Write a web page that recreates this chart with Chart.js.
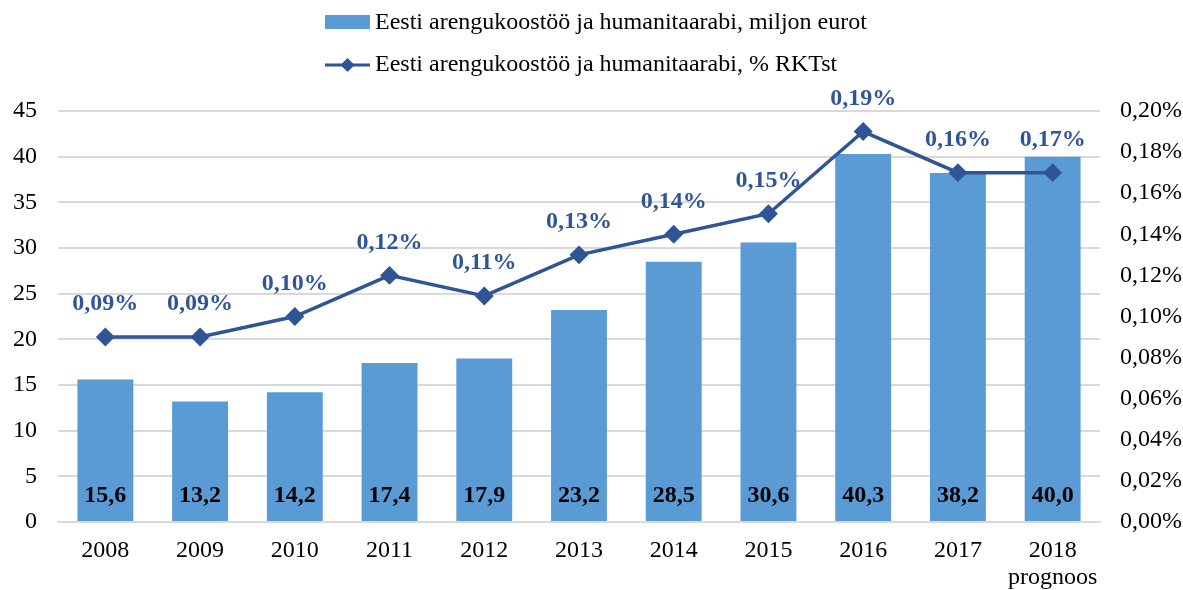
<!DOCTYPE html>
<html>
<head>
<meta charset="utf-8">
<script src="https://cdn.jsdelivr.net/npm/chart.js@4"></script>
<style>
  html, body { margin: 0; padding: 0; background: #fff; }
  #wrap { width: 1183px; height: 590px; }
</style>
</head>
<body>
<div id="wrap"><canvas id="chart" width="1183" height="590"></canvas></div>
<script>
// data
const years = ['2008', '2009', '2010', '2011', '2012', '2013', '2014', '2015', '2016', '2017', ['2018', 'prognoos']];
const millionEur = [15.6, 13.2, 14.2, 17.4, 17.9, 23.2, 28.5, 30.6, 40.3, 38.2, 40.0];
const pctGni = [0.09, 0.09, 0.10, 0.12, 0.11, 0.13, 0.14, 0.15, 0.19, 0.17, 0.17];
const pctLabels = ['0,09%', '0,09%', '0,10%', '0,12%', '0,11%', '0,13%', '0,14%', '0,15%', '0,19%', '0,16%', '0,17%'];
const barName = 'Eesti arengukoostöö ja humanitaarabi, miljon eurot';
const lineName = 'Eesti arengukoostöö ja humanitaarabi, % RKTst';

const FONT = '"Liberation Serif", "Times New Roman", serif';
const BAR_COLOR = '#5B9BD5';
const LINE_COLOR = '#2F5597';

// legend drawn by hand (two stacked rows)
const legendPlugin = {
  id: 'customLegend',
  afterDraw(chart) {
    const ctx = chart.ctx;
    ctx.save();
    ctx.font = '24px ' + FONT;
    ctx.textBaseline = 'middle';
    const x0 = 325;
    // bar entry
    ctx.fillStyle = BAR_COLOR;
    ctx.fillRect(x0, 15, 45, 14);
    ctx.fillStyle = '#000';
    ctx.fillText(barName, x0 + 50, 23);
    // line entry
    ctx.strokeStyle = LINE_COLOR;
    ctx.lineWidth = 3;
    ctx.beginPath();
    ctx.moveTo(x0, 65);
    ctx.lineTo(x0 + 45, 65);
    ctx.stroke();
    ctx.fillStyle = LINE_COLOR;
    ctx.beginPath();
    ctx.moveTo(x0 + 22.5, 58);
    ctx.lineTo(x0 + 29.5, 65);
    ctx.lineTo(x0 + 22.5, 72);
    ctx.lineTo(x0 + 15.5, 65);
    ctx.closePath();
    ctx.fill();
    ctx.fillStyle = '#000';
    ctx.fillText(lineName, x0 + 50, 65);
    ctx.restore();
  }
};

// value labels: inside bars near the base, above the line points
const labelPlugin = {
  id: 'valueLabels',
  afterDatasetsDraw(chart) {
    const ctx = chart.ctx;
    ctx.save();
    ctx.font = 'bold 24px ' + FONT;
    ctx.textAlign = 'center';
    ctx.textBaseline = 'middle';
    const yScale = chart.scales.y;
    chart.getDatasetMeta(1).data.forEach((bar, i) => {
      ctx.fillStyle = '#000';
      ctx.fillText(millionEur[i].toFixed(1).replace('.', ','), bar.x, yScale.getPixelForValue(0) - 26);
    });
    chart.getDatasetMeta(0).data.forEach((pt, i) => {
      ctx.fillStyle = LINE_COLOR;
      ctx.fillText(pctLabels[i], pt.x, pt.y - 33);
    });
    ctx.restore();
  }
};

new Chart(document.getElementById('chart'), {
  data: {
    labels: years,
    datasets: [
      {
        type: 'line',
        label: lineName,
        data: pctGni,
        yAxisID: 'y2',
        borderColor: LINE_COLOR,
        backgroundColor: LINE_COLOR,
        borderWidth: 3.5,
        pointStyle: 'rectRot',
        pointRadius: 7,
        pointHoverRadius: 7,
        tension: 0,
        order: 0
      },
      {
        type: 'bar',
        label: barName,
        data: millionEur,
        yAxisID: 'y',
        backgroundColor: BAR_COLOR,
        categoryPercentage: 1,
        barPercentage: 0.59,
        order: 1
      }
    ]
  },
  options: {
    responsive: false,
    animation: false,
    layout: { padding: { top: 111, left: 0, right: 0, bottom: 0 } },
    plugins: {
      legend: { display: false },
      tooltip: { enabled: false }
    },
    scales: {
      x: {
        afterFit: s => { s.height = 68; },
        grid: { display: false },
        border: { color: '#d9d9d9', width: 2 },
        ticks: { color: '#000', font: { family: FONT, size: 24, lineHeight: 1.1 }, padding: 8, maxRotation: 0 }
      },
      y: {
        position: 'left',
        min: 0, max: 45,
        afterFit: s => { s.width = 58; },
        ticks: { stepSize: 5, color: '#000', font: { family: FONT, size: 24 }, padding: 21 },
        grid: { color: '#d9d9d9', lineWidth: 2, drawTicks: false },
        border: { display: false }
      },
      y2: {
        position: 'right',
        min: 0, max: 0.2,
        afterFit: s => { s.width = 83; },
        ticks: {
          stepSize: 0.02,
          color: '#000',
          font: { family: FONT, size: 24 },
          padding: 20,
          callback: v => v.toFixed(2).replace('.', ',') + '%'
        },
        grid: { display: false, drawTicks: false },
        border: { display: false }
      }
    }
  },
  plugins: [labelPlugin, legendPlugin]
});
</script>
</body>
</html>
